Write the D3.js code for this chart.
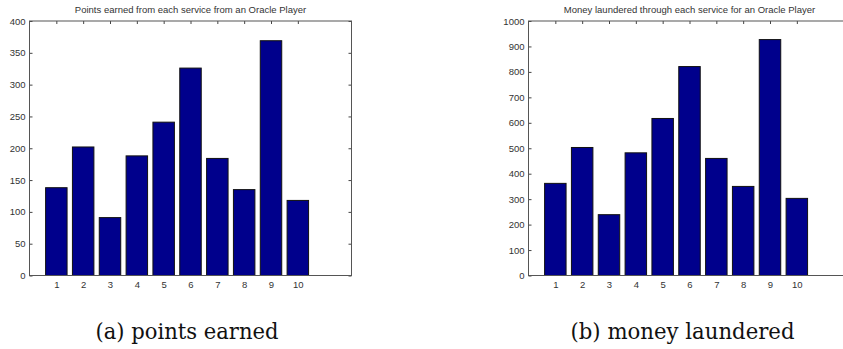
<!DOCTYPE html>
<html>
<head>
<meta charset="utf-8">
<script src="https://cdn.jsdelivr.net/npm/d3@7"></script>
<style>
  body { margin: 0; background: #fff; }
  svg { display: block; }
  .caption { font-family: "DejaVu Serif", "Liberation Serif", "Times New Roman", serif; }
</style>
</head>
<body>
<script>
// services 1..10
var services = [1, 2, 3, 4, 5, 6, 7, 8, 9, 10];

// values
var pointsEarned = [138, 202, 91, 188, 241, 326, 184, 135, 369, 118];
var moneyLaundered = [362, 503, 239, 482, 617, 821, 460, 350, 927, 303];

var pointsTicks = [0, 50, 100, 150, 200, 250, 300, 350, 400];
var moneyTicks = [0, 100, 200, 300, 400, 500, 600, 700, 800, 900, 1000];

var titles = ["Points earned from each service from an Oracle Player",
              "Money laundered through each service for an Oracle Player"];
var captions = ["(a) points earned", "(b) money laundered"];

var svg = d3.select("body")
  .append("svg")
    .attr("width", 843)
    .attr("height", 349);

function drawPanel(opts) {
  "use strict";
  var left = opts.left,
      top = 21,
      width = 322,
      height = 254.5;

  var g = svg.append("g").attr("class", "panel");

  var x = d3.scaleLinear().domain([0, 12]).range([left, left + width]);
  var y = d3.scaleLinear().domain([0, opts.yMax]).range([top + height, top]);

  // inward ticks on all four sides, labels only bottom and left
  g.append("g")
      .attr("transform", "translate(" + left + ",0)")
      .call(d3.axisLeft(y).tickValues(opts.yTicks).tickSizeInner(-3)
              .tickSizeOuter(0).tickPadding(4).tickFormat(d3.format("d")));
  g.append("g")
      .attr("transform", "translate(" + (left + width) + ",0)")
      .call(d3.axisRight(y).tickValues(opts.yTicks).tickSizeInner(-3)
              .tickSizeOuter(0).tickFormat(""));
  g.append("g")
      .attr("transform", "translate(0," + (top + height) + ")")
      .call(d3.axisBottom(x).tickValues(services).tickSizeInner(-3)
              .tickSizeOuter(0).tickPadding(6));
  g.append("g")
      .attr("transform", "translate(0," + top + ")")
      .call(d3.axisTop(x).tickValues(services).tickSizeInner(-3)
              .tickSizeOuter(0).tickFormat(""));

  g.selectAll(".domain").remove();
  g.selectAll(".tick line").attr("stroke", "#444");
  g.selectAll(".tick text")
      .style("font-family", "'Liberation Sans', Arial, sans-serif")
      .style("font-size", "9.5px")
      .attr("fill", "#333");

  // bars, width 0.8
  g.selectAll("rect.bar")
    .data(opts.values)
    .enter()
    .append("rect")
      .attr("class", "bar")
      .attr("x", function(d, i) { return x(services[i] - 0.4); })
      .attr("width", function(d, i) { return x(services[i] + 0.4) - x(services[i] - 0.4); })
      .attr("y", function(d) { return y(d); })
      .attr("height", function(d) { return y(0) - y(d); })
      .attr("fill", "#00008c")
      .attr("stroke", "#111")
      .attr("stroke-width", 1);

  // axes box
  g.append("rect")
      .attr("x", left)
      .attr("y", top)
      .attr("width", width)
      .attr("height", height)
      .attr("fill", "none")
      .attr("stroke", "#555")
      .attr("stroke-width", 1);

  g.append("text")
      .attr("x", left + width / 2)
      .attr("y", 13)
      .style("text-anchor", "middle")
      .style("font-family", "'Liberation Sans', Arial, sans-serif")
      .style("font-size", "9.5px")
      .attr("fill", "#333")
      .text(opts.title);

  g.append("text")
      .attr("class", "caption")
      .attr("x", opts.captionX)
      .attr("y", 339)
      .style("text-anchor", "middle")
      .style("font-size", "22px")
      .attr("fill", "#111")
      .attr("textLength", opts.captionW)
      .attr("lengthAdjust", "spacingAndGlyphs")
      .text(opts.caption);
}

drawPanel({ left: 29.5, yMax: 400, yTicks: pointsTicks, values: pointsEarned,
            title: titles[0], caption: captions[0], captionX: 187, captionW: 183 });
drawPanel({ left: 528.5, yMax: 1000, yTicks: moneyTicks, values: moneyLaundered,
            title: titles[1], caption: captions[1], captionX: 682.5, captionW: 224 });
</script>
</body>
</html>
